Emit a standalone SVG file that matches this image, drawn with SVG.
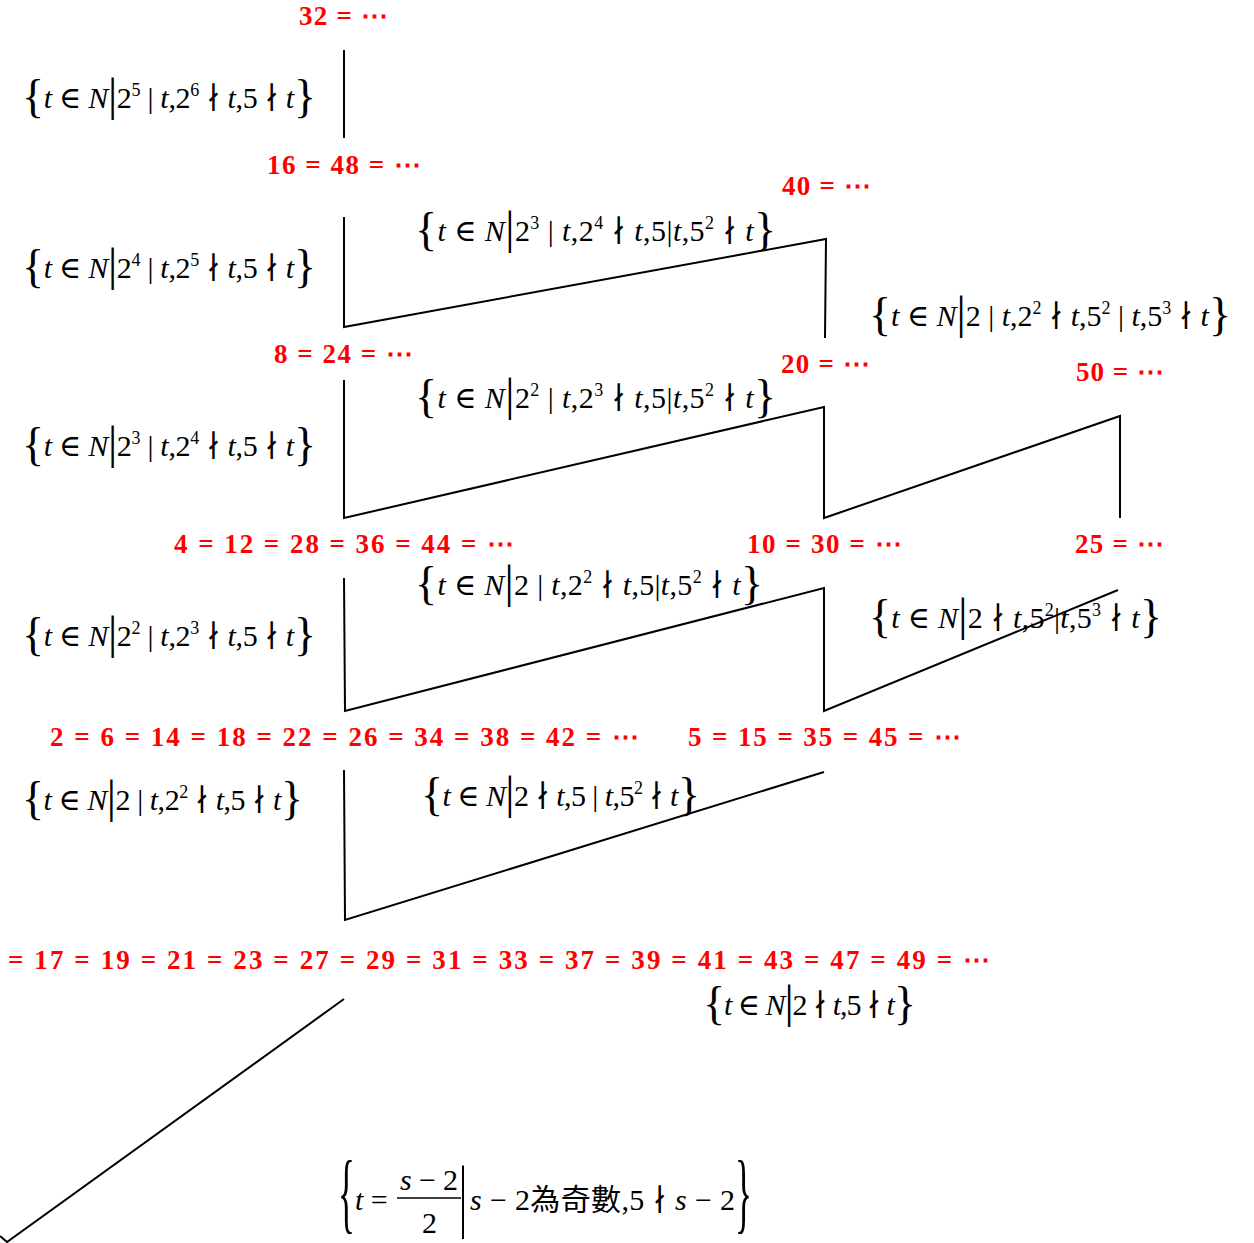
<svg xmlns="http://www.w3.org/2000/svg" width="1254" height="1243" viewBox="0 0 1254 1243">
<style>
.m{font-family:"Liberation Serif","DejaVu Serif","Noto Sans CJK TC",serif;font-size:30px;fill:#000}
.i{font-style:italic}
.s{font-size:18px}
.b{font-size:46px}
.r{font-family:"Liberation Serif","DejaVu Serif",serif;font-weight:bold;font-size:27px;fill:#ff0000}
.c{fill:none;stroke:#000;stroke-width:2;stroke-linejoin:miter}
</style>
<rect width="1254" height="1243" fill="#fff"/>
<g id="connectors">
<polyline class="c" points="344,50 344,138"/>
<polyline class="c" points="344,217 344,327 826,239 825,338"/>
<polyline class="c" points="344,380 344,518 824,407 824,518 1120,416 1120,518"/>
<polyline class="c" points="344,578 345,711 824,588 824,711 1118,590"/>
<polyline class="c" points="344,770 345,920 824,772"/>
<polyline class="c" points="344,999 7,1242 0,1236"/>
</g>
<g id="labels">
<text id="n32" class="r" x="299" y="25" textLength="89" lengthAdjust="spacing">32 = ⋯</text>
<text id="n16" class="r" x="267" y="174" textLength="154" lengthAdjust="spacing">16 = 48 = ⋯</text>
<text id="n40" class="r" x="782" y="195" textLength="89" lengthAdjust="spacing">40 = ⋯</text>
<text id="n8" class="r" x="274" y="363" textLength="139" lengthAdjust="spacing">8 = 24 = ⋯</text>
<text id="n20" class="r" x="781" y="373" textLength="89" lengthAdjust="spacing">20 = ⋯</text>
<text id="n50" class="r" x="1076" y="381" textLength="88" lengthAdjust="spacing">50 = ⋯</text>
<text id="n4" class="r" x="174" y="553" textLength="340" lengthAdjust="spacing">4 = 12 = 28 = 36 = 44 = ⋯</text>
<text id="n10" class="r" x="747" y="553" textLength="155" lengthAdjust="spacing">10 = 30 = ⋯</text>
<text id="n25" class="r" x="1075" y="553" textLength="89" lengthAdjust="spacing">25 = ⋯</text>
<text id="n2" class="r" x="50" y="746" textLength="589" lengthAdjust="spacing">2 = 6 = 14 = 18 = 22 = 26 = 34 = 38 = 42 = ⋯</text>
<text id="n5" class="r" x="688" y="746" textLength="273" lengthAdjust="spacing">5 = 15 = 35 = 45 = ⋯</text>
<text id="n1" class="r" x="8" y="969" textLength="982" lengthAdjust="spacing">= 17 = 19 = 21 = 23 = 27 = 29 = 31 = 33 = 37 = 39 = 41 = 43 = 47 = 49 = ⋯</text>
</g>
<g id="set-e1"><text class="m" x="22" y="108" textLength="294" lengthAdjust="spacing"><tspan class="b" dy="4">{</tspan><tspan class="i" dy="-4">t</tspan> ∈ <tspan class="i">N</tspan><tspan class="b" dy="2">|</tspan><tspan dy="-2">2</tspan><tspan class="s" dy="-12">5</tspan><tspan dy="12"> | </tspan><tspan class="i">t</tspan>,2<tspan class="s" dy="-12">6</tspan><tspan dy="12"> ∤ </tspan><tspan class="i">t</tspan>,5 ∤ <tspan class="i">t</tspan><tspan class="b" dy="4">}</tspan></text></g>
<g id="set-e2"><text class="m" x="22" y="278" textLength="294" lengthAdjust="spacing"><tspan class="b" dy="4">{</tspan><tspan class="i" dy="-4">t</tspan> ∈ <tspan class="i">N</tspan><tspan class="b" dy="2">|</tspan><tspan dy="-2">2</tspan><tspan class="s" dy="-12">4</tspan><tspan dy="12"> | </tspan><tspan class="i">t</tspan>,2<tspan class="s" dy="-12">5</tspan><tspan dy="12"> ∤ </tspan><tspan class="i">t</tspan>,5 ∤ <tspan class="i">t</tspan><tspan class="b" dy="4">}</tspan></text></g>
<g id="set-e3"><text class="m" x="415" y="241" textLength="361" lengthAdjust="spacing"><tspan class="b" dy="4">{</tspan><tspan class="i" dy="-4">t</tspan> ∈ <tspan class="i">N</tspan><tspan class="b" dy="2">|</tspan><tspan dy="-2">2</tspan><tspan class="s" dy="-12">3</tspan><tspan dy="12"> | </tspan><tspan class="i">t</tspan>,2<tspan class="s" dy="-12">4</tspan><tspan dy="12"> ∤ </tspan><tspan class="i">t</tspan>,5|<tspan class="i">t</tspan>,5<tspan class="s" dy="-12">2</tspan><tspan dy="12"> ∤ </tspan><tspan class="i">t</tspan><tspan class="b" dy="4">}</tspan></text></g>
<g id="set-e4"><text class="m" x="869" y="326" textLength="362" lengthAdjust="spacing"><tspan class="b" dy="4">{</tspan><tspan class="i" dy="-4">t</tspan> ∈ <tspan class="i">N</tspan><tspan class="b" dy="2">|</tspan><tspan dy="-2">2 | </tspan><tspan class="i">t</tspan>,2<tspan class="s" dy="-12">2</tspan><tspan dy="12"> ∤ </tspan><tspan class="i">t</tspan>,5<tspan class="s" dy="-12">2</tspan><tspan dy="12"> | </tspan><tspan class="i">t</tspan>,5<tspan class="s" dy="-12">3</tspan><tspan dy="12"> ∤ </tspan><tspan class="i">t</tspan><tspan class="b" dy="4">}</tspan></text></g>
<g id="set-e5"><text class="m" x="415" y="408" textLength="361" lengthAdjust="spacing"><tspan class="b" dy="4">{</tspan><tspan class="i" dy="-4">t</tspan> ∈ <tspan class="i">N</tspan><tspan class="b" dy="2">|</tspan><tspan dy="-2">2</tspan><tspan class="s" dy="-12">2</tspan><tspan dy="12"> | </tspan><tspan class="i">t</tspan>,2<tspan class="s" dy="-12">3</tspan><tspan dy="12"> ∤ </tspan><tspan class="i">t</tspan>,5|<tspan class="i">t</tspan>,5<tspan class="s" dy="-12">2</tspan><tspan dy="12"> ∤ </tspan><tspan class="i">t</tspan><tspan class="b" dy="4">}</tspan></text></g>
<g id="set-e6"><text class="m" x="22" y="456" textLength="294" lengthAdjust="spacing"><tspan class="b" dy="4">{</tspan><tspan class="i" dy="-4">t</tspan> ∈ <tspan class="i">N</tspan><tspan class="b" dy="2">|</tspan><tspan dy="-2">2</tspan><tspan class="s" dy="-12">3</tspan><tspan dy="12"> | </tspan><tspan class="i">t</tspan>,2<tspan class="s" dy="-12">4</tspan><tspan dy="12"> ∤ </tspan><tspan class="i">t</tspan>,5 ∤ <tspan class="i">t</tspan><tspan class="b" dy="4">}</tspan></text></g>
<g id="set-e7"><text class="m" x="415" y="595" textLength="348" lengthAdjust="spacing"><tspan class="b" dy="4">{</tspan><tspan class="i" dy="-4">t</tspan> ∈ <tspan class="i">N</tspan><tspan class="b" dy="2">|</tspan><tspan dy="-2">2 | </tspan><tspan class="i">t</tspan>,2<tspan class="s" dy="-12">2</tspan><tspan dy="12"> ∤ </tspan><tspan class="i">t</tspan>,5|<tspan class="i">t</tspan>,5<tspan class="s" dy="-12">2</tspan><tspan dy="12"> ∤ </tspan><tspan class="i">t</tspan><tspan class="b" dy="4">}</tspan></text></g>
<g id="set-e8"><text class="m" x="22" y="646" textLength="294" lengthAdjust="spacing"><tspan class="b" dy="4">{</tspan><tspan class="i" dy="-4">t</tspan> ∈ <tspan class="i">N</tspan><tspan class="b" dy="2">|</tspan><tspan dy="-2">2</tspan><tspan class="s" dy="-12">2</tspan><tspan dy="12"> | </tspan><tspan class="i">t</tspan>,2<tspan class="s" dy="-12">3</tspan><tspan dy="12"> ∤ </tspan><tspan class="i">t</tspan>,5 ∤ <tspan class="i">t</tspan><tspan class="b" dy="4">}</tspan></text></g>
<g id="set-e9"><text class="m" x="869" y="628" textLength="293" lengthAdjust="spacing"><tspan class="b" dy="4">{</tspan><tspan class="i" dy="-4">t</tspan> ∈ <tspan class="i">N</tspan><tspan class="b" dy="2">|</tspan><tspan dy="-2">2 ∤ </tspan><tspan class="i">t</tspan>,5<tspan class="s" dy="-12">2</tspan><tspan dy="12">|</tspan><tspan class="i">t</tspan>,5<tspan class="s" dy="-12">3</tspan><tspan dy="12"> ∤ </tspan><tspan class="i">t</tspan><tspan class="b" dy="4">}</tspan></text></g>
<g id="set-e10"><text class="m" x="22" y="810" textLength="281" lengthAdjust="spacing"><tspan class="b" dy="4">{</tspan><tspan class="i" dy="-4">t</tspan> ∈ <tspan class="i">N</tspan><tspan class="b" dy="2">|</tspan><tspan dy="-2">2 | </tspan><tspan class="i">t</tspan>,2<tspan class="s" dy="-12">2</tspan><tspan dy="12"> ∤ </tspan><tspan class="i">t</tspan>,5 ∤ <tspan class="i">t</tspan><tspan class="b" dy="4">}</tspan></text></g>
<g id="set-e11"><text class="m" x="421" y="806" textLength="279" lengthAdjust="spacing"><tspan class="b" dy="4">{</tspan><tspan class="i" dy="-4">t</tspan> ∈ <tspan class="i">N</tspan><tspan class="b" dy="2">|</tspan><tspan dy="-2">2 ∤ </tspan><tspan class="i">t</tspan>,5 | <tspan class="i">t</tspan>,5<tspan class="s" dy="-12">2</tspan><tspan dy="12"> ∤ </tspan><tspan class="i">t</tspan><tspan class="b" dy="4">}</tspan></text></g>
<g id="set-e12"><text class="m" x="703" y="1015" textLength="213" lengthAdjust="spacing"><tspan class="b" dy="4">{</tspan><tspan class="i" dy="-4">t</tspan> ∈ <tspan class="i">N</tspan><tspan class="b" dy="2">|</tspan><tspan dy="-2">2 ∤ </tspan><tspan class="i">t</tspan>,5 ∤ <tspan class="i">t</tspan><tspan class="b" dy="4">}</tspan></text></g>
<g id="set-e13">
<text class="m" style="font-size:88px" transform="translate(338,1222) scale(0.4,1)">{</text>
<text class="m" x="355" y="1210"><tspan class="i">t</tspan> =</text>
<text class="m" x="400" y="1190" textLength="58" lengthAdjust="spacing"><tspan class="i">s</tspan> − 2</text>
<line x1="397" y1="1198" x2="461" y2="1198" stroke="#000" stroke-width="1.5"/>
<text class="m" x="422" y="1233">2</text>
<text class="m" style="font-size:80px" transform="translate(459,1222) scale(0.5,1)">|</text>
<text class="m" x="470" y="1210" textLength="265" lengthAdjust="spacing"><tspan class="i">s</tspan> − 2為奇數,5 ∤ <tspan class="i">s</tspan> − 2</text>
<text class="m" style="font-size:88px" transform="translate(735,1222) scale(0.4,1)">}</text>
</g>
</svg>
